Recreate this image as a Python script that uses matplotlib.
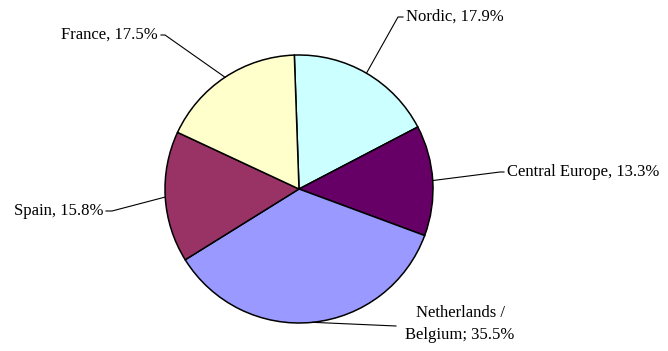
import numpy as np
import matplotlib
matplotlib.use('Agg')
import matplotlib.pyplot as plt

# 数据
regions = ['Nordic', 'Central Europe', 'Netherlands /\nBelgium', 'Spain', 'France']
shares = [17.9, 13.3, 35.5, 15.8, 17.5]
label_text = ['Nordic, 17.9%', 'Central Europe, 13.3%', 'Netherlands /\nBelgium; 35.5%',
              'Spain, 15.8%', 'France, 17.5%']
colors = ['#CCFFFF', '#660066', '#9999FF', '#993366', '#FFFFCC']

W, H = 668, 351
plt.rcParams['font.family'] = ['Liberation Serif', 'DejaVu Serif']

fig = plt.figure(figsize=(W / 100, H / 100), dpi=100)
ax = fig.add_axes([0, 0, 1, 1])

cx, cy, r = 299, H - 189, 134
wedges, _ = ax.pie(shares, colors=colors, startangle=92, counterclock=False,
                   center=(cx, cy), radius=r, frame=True,
                   wedgeprops=dict(edgecolor='black', linewidth=1.1))
ax.set_xlim(0, W)
ax.set_ylim(0, H)
ax.set_aspect('equal')
ax.axis('off')

# 标签位置（像素，y 向下）：拐点、文字锚点、对齐方式
elbows = [(398, 17), (500, 172), (396, 326), (112, 211), (165, 35)]
text_pos = [(406, 17), (507, 172), (460, 324), (103, 211), (158, 35)]
aligns = ['left', 'left', 'center', 'right', 'right']

for w, lab, (ex, ey), (tx, ty), ha in zip(wedges, label_text, elbows, text_pos, aligns):
    mid = np.deg2rad((w.theta1 + w.theta2) / 2)
    ax_, ay_ = cx + r * np.cos(mid), cy + r * np.sin(mid)
    if ha == 'center':
        xs, ys = [ax_, ex], [ay_, H - ey]
        ax.text(tx, H - ty, lab, ha='center', va='center', fontsize=12, linespacing=1.5)
    else:
        end_x = tx - 3 if ha == 'left' else tx + 3
        xs, ys = [ax_, ex, end_x], [ay_, H - ey, H - ey]
        ax.text(tx, H - ty, lab, ha=ha, va='center', fontsize=12)
    ax.plot(xs, ys, color='black', linewidth=0.8)

fig.savefig('out.png', dpi=100, facecolor='white')
